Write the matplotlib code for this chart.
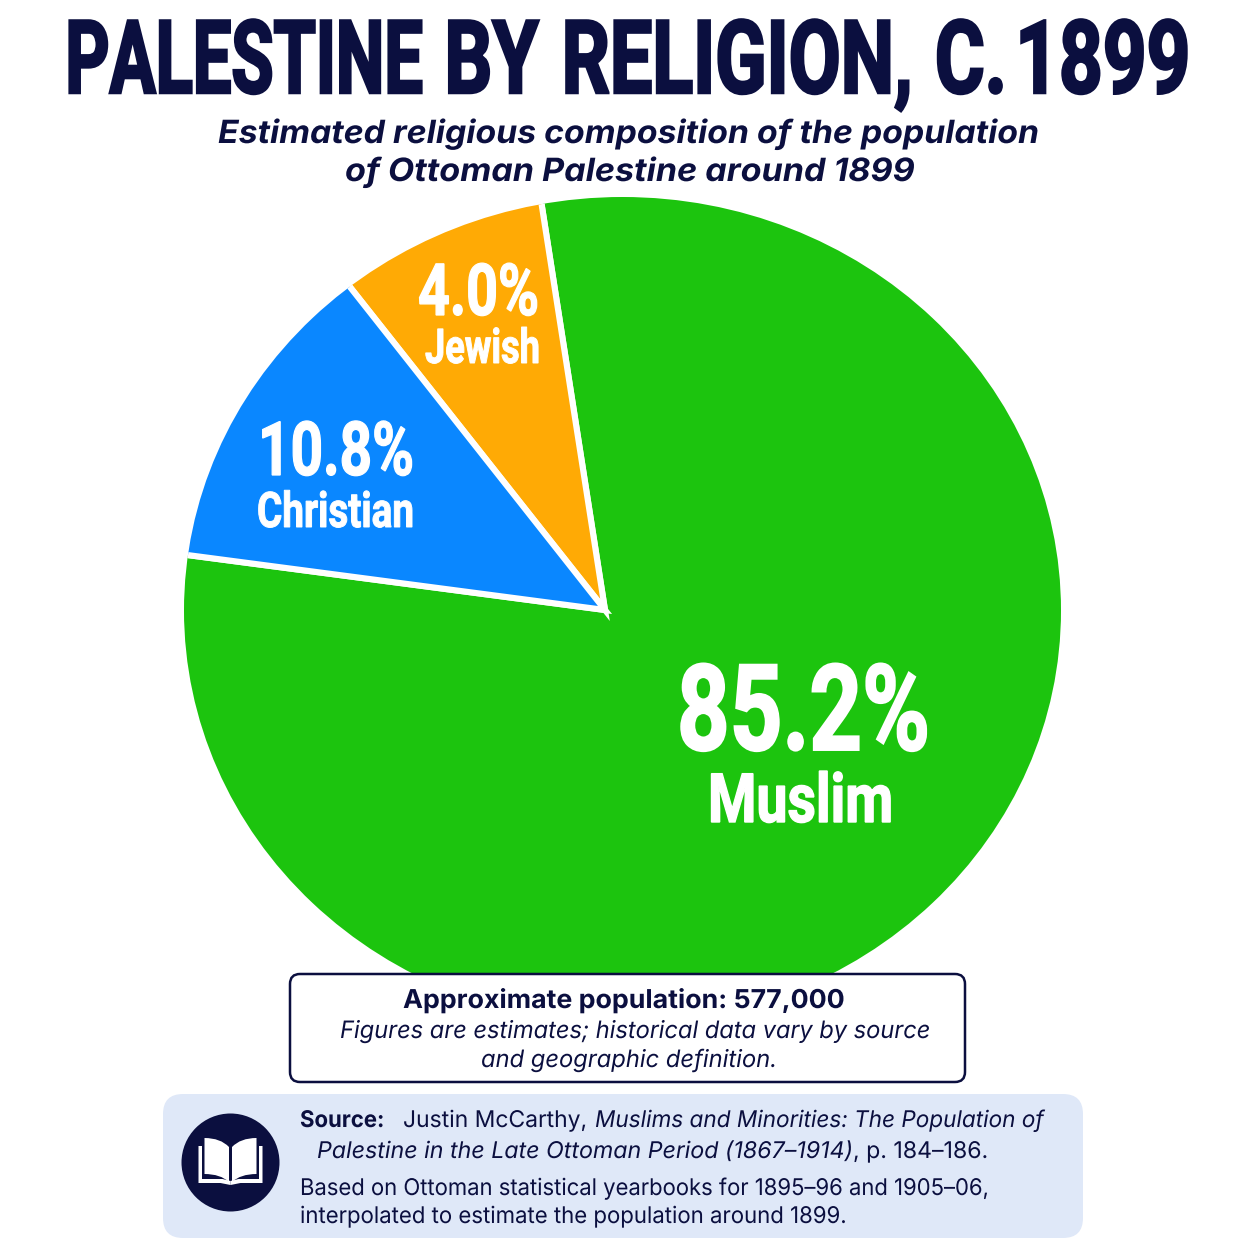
import matplotlib
matplotlib.use("Agg")
import numpy as np
import matplotlib.pyplot as plt
from matplotlib.patches import Ellipse, FancyBboxPatch, Circle, PathPatch
from matplotlib.path import Path
from matplotlib.patheffects import AbstractPathEffect
from matplotlib.transforms import Affine2D

# ---- data ----
religions = ["Muslim", "Jewish", "Christian"]
shown_percent = [85.2, 4.0, 10.8]
# slice sizes as they are actually drawn in the picture
drawn_share = [79.55, 8.17, 12.28]
colors = ["#1CC40E", "#FFAA05", "#0A87FF"]

title = "PALESTINE BY RELIGION, C. 1899"
subtitle = ["Estimated religious composition of the population",
            "of Ottoman Palestine around 1899"]
population = "Approximate population: 577,000"
caveat = ["Figures are estimates; historical data vary by source",
          "and geographic definition."]

NAVY = "#0B0F3F"
NARROW = "Roboto"
SANS = "Inter"

W = 1254
fig = plt.figure(figsize=(W / 100, W / 100), dpi=100, facecolor="white")
ax = fig.add_axes([0, 0, 1, 1])


def Y(py):
    return W - py


class Stretch(AbstractPathEffect):
    """Scale the glyphs of a real text object about its baseline start.
    With `words` (pixel extents per word) each word is also fitted to its own extent."""

    def __init__(self, sy, stroke=0.0, words=None):
        super().__init__()
        self.sy, self.stroke, self.words = sy, stroke, words

    def remap(self, tpath):
        v = tpath.vertices.copy()
        real = tpath.codes != Path.CLOSEPOLY
        xs = np.sort(v[real, 0])
        gaps = np.diff(xs)
        cuts = np.sort(np.argsort(gaps)[-(len(self.words) - 1):])
        nat = [xs[0]]
        for c in cuts:
            nat += [xs[c], xs[c + 1]]
        nat.append(xs[-1])
        x0 = self.words[0][0]
        span = self.words[-1][1] - x0
        unit = (xs[-1] - xs[0]) / span
        tgt = [xs[0] + (px - x0) * unit for w in self.words for px in w]
        v[:, 0] = np.interp(v[:, 0], nat, tgt)
        return Path(v, tpath.codes)

    def draw_path(self, renderer, gc, tpath, affine, rgbFace=None):
        gc0 = renderer.new_gc()
        gc0.copy_properties(gc)
        if self.stroke:
            gc0.set_linewidth(self.stroke)
            gc0.set_foreground(rgbFace)
            gc0.set_joinstyle("miter")
        else:
            gc0.set_linewidth(0)
        if self.words:
            tpath = self.remap(tpath)
        renderer.draw_path(gc0, tpath, Affine2D().scale(1.0, self.sy) + affine, rgbFace)
        gc0.restore()


def put(s, x0, x1, base, px, color=NAVY, family=SANS, weight="normal", style="normal", stroke=0.0, words=None):
    """Font size is chosen so the natural width fits x0..x1; height reaches px through the effect."""
    t = ax.text(x0, Y(base), s, fontsize=px * 0.72, family=family, weight=weight, style=style,
                color=color, ha="left", va="baseline", zorder=10)
    w = t.get_window_extent(fig.canvas.get_renderer()).width
    ratio = (x1 - x0) / w
    t.set_fontsize(px * 0.72 * ratio)
    t.set_path_effects([Stretch(1.0 / ratio, stroke, words)])
    return t


# ---- pie ----
apex = (605, Y(610))
wedges, _ = ax.pie(drawn_share, colors=colors, startangle=172.5, center=apex, radius=700,
                   counterclock=True,
                   wedgeprops=dict(edgecolor="white", linewidth=4.4, joinstyle="miter"))
disc = Ellipse((622.5, Y(610.5)), 877, 827, transform=ax.transData, fc="none", ec="none")
ax.add_patch(disc)
for w in wedges:
    w.set_clip_on(True)
    w.set_clip_path(disc)

ax.set_xlim(0, W)
ax.set_ylim(0, W)
ax.axis("off")

# ---- headings ----
put(title, 65, 1190, 93, 102, family=NARROW, weight="bold", stroke=1.8,
    words=[(66, 420), (448, 538), (566, 910), (940, 1004), (1024, 1190)])
put(subtitle[0], 218, 1038, 143, 32, weight="bold", style="italic")
put(subtitle[1], 345, 914, 181, 32, weight="bold", style="italic")

# ---- slice labels ----
put(f"{shown_percent[0]:.1f}%", 677, 930, 750, 120, "white", NARROW, "bold", stroke=1.4)
put(religions[0], 708, 893, 822, 68, "white", NARROW, "bold", stroke=1.0)
put(f"{shown_percent[2]:.1f}%", 258, 414, 475, 75, "white", NARROW, "bold", stroke=0.9)
put(religions[2], 257, 414, 527, 49, "white", NARROW, "bold", stroke=0.7)
put(f"{shown_percent[1]:.1f}%", 418, 539, 315, 72, "white", NARROW, "bold", stroke=0.9)
put(religions[1], 425, 540, 363, 48, "white", NARROW, "bold", stroke=0.7)

# ---- population box ----
ax.add_patch(FancyBboxPatch((290 + 10, Y(1082) + 10), 675 - 20, 108 - 20,
                            boxstyle="round,pad=10,rounding_size=10",
                            fc="white", ec=NAVY, lw=1.8, zorder=5))
put(population, 403, 845, 1008, 26, weight="bold")
put(caveat[0], 340, 930, 1038, 24, style="italic")
put(caveat[1], 481, 777, 1067, 24, style="italic")

# ---- source panel ----
ax.add_patch(FancyBboxPatch((163 + 20, Y(1238) + 20), 920 - 40, 144 - 40,
                            boxstyle="round,pad=20,rounding_size=20",
                            fc="#DFE8F8", ec="none", zorder=5))
ax.add_patch(Circle((230.5, Y(1162.5)), 49, fc=NAVY, ec="none", zorder=6))

# book icon
BOOK_X = 230.5


def page(sign):
    def P(dx, py):
        return (BOOK_X + sign * dx, Y(py))
    return Path([P(1.5, 1147), P(10, 1138), P(26, 1138), P(26, 1174), P(10, 1174), P(1.5, 1182), P(1.5, 1147)],
                [Path.MOVETO, Path.CURVE3, Path.CURVE3, Path.LINETO, Path.CURVE3, Path.CURVE3, Path.CLOSEPOLY])


def cover(sign):
    def P(dx, py):
        return (BOOK_X + sign * dx, Y(py))
    return Path([P(32, 1146), P(32, 1183), P(10, 1183), P(0, 1185), P(0, 1181), P(8, 1179),
                 P(28.5, 1179), P(28.5, 1146), P(32, 1146)],
                [Path.MOVETO, Path.LINETO, Path.LINETO, Path.LINETO, Path.LINETO, Path.LINETO,
                 Path.LINETO, Path.LINETO, Path.CLOSEPOLY])


for s in (-1, 1):
    ax.add_patch(PathPatch(page(s), fc="white", ec="none", zorder=7))
    ax.add_patch(PathPatch(cover(s), fc="white", ec="none", zorder=7))

put("Source:", 300, 384, 1127, 23, weight="bold")
put("Justin McCarthy,", 403, 587, 1127, 23)
put("Muslims and Minorities: The Population of", 595, 1044, 1127, 23, style="italic")
put("Palestine in the Late Ottoman Period (1867\u20131914)", 317, 853, 1158, 23, style="italic")
put(", p. 184\u2013186.", 853, 988, 1158, 23)
put("Based on Ottoman statistical yearbooks for 1895\u201396 and 1905\u201306,", 300, 988, 1195, 23)
put("interpolated to estimate the population around 1899.", 300, 846, 1223, 23)

fig.savefig("out.png", dpi=100, facecolor="white")
